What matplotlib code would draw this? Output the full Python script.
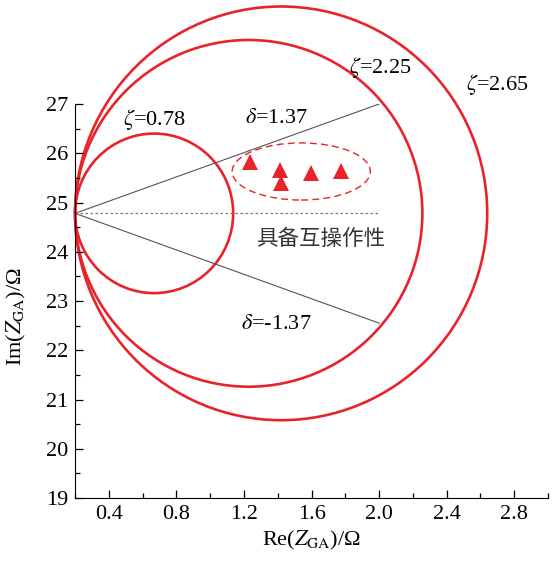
import numpy as np
import matplotlib.pyplot as plt
from matplotlib.patches import Ellipse
from matplotlib.ticker import MultipleLocator

plt.rcParams['font.family'] = ['Liberation Serif', 'DejaVu Serif']
plt.rcParams['mathtext.fontset'] = 'stix'

# common point on the left edge
x0, y0 = 0.2, 24.78

# circles: zeta label, half width (Re), half height (Im)
zeta_labels = [r'$\zeta$=0.78', r'$\zeta$=2.25', r'$\zeta$=2.65']
half_w = [0.468, 1.028, 1.22]
half_h = [1.62, 3.52, 4.2]

# delta boundary lines end points
delta_x_end = 2.0
delta_y_end = [27.0, 22.55]

# operating points (triangles)
pts_x = [1.237, 1.415, 1.42, 1.599, 1.776]
pts_y = [25.82, 25.66, 25.40, 25.60, 25.64]

# dashed region around the points
region_center = (1.539, 25.63)
region_w, region_h = 0.818, 1.16

red = '#e8232b'
fs = 16

fig = plt.figure(figsize=(5.56, 5.61), dpi=100)
ax = fig.add_axes([0.135, 0.1123, 0.8507, 0.7023])

for a, b in zip(half_w, half_h):
    e = Ellipse((x0 + a, y0), 2 * a, 2 * b, fill=False, edgecolor=red,
                linewidth=1.9, clip_on=False)
    ax.add_patch(e)

for ye in delta_y_end:
    ax.plot([x0, delta_x_end], [y0, ye], color='#555555', linewidth=0.8)
ax.plot([x0, delta_x_end], [y0, y0], color='#777777', linewidth=0.9,
        linestyle=(0, (2, 2)))

ax.add_patch(Ellipse(region_center, region_w, region_h, fill=False,
                     edgecolor=red, linewidth=1.0, linestyle=(0, (5, 3))))
ax.plot(pts_x, pts_y, linestyle='none', marker='^', color=red,
        markersize=11, markeredgewidth=0)

# labels
ax.text(0.67, 26.68, zeta_labels[0], fontsize=fs, ha='center', va='center')
ax.text(2.01, 27.75, zeta_labels[1], fontsize=fs, ha='center', va='center', clip_on=False)
ax.text(2.70, 27.39, zeta_labels[2], fontsize=fs, ha='center', va='center', clip_on=False)
ax.text(1.39, 26.7, r'$\delta$=1.37', fontsize=fs, ha='center', va='center')
ax.text(1.39, 22.53, r'$\delta$=-1.37', fontsize=fs, ha='center', va='center')
ax.text(1.652, 24.26, '具备互操作性', fontsize=15.5, ha='center', va='center',
        color='#333333', family=['Noto Sans CJK SC', 'DejaVu Sans'])

ax.set_xlim(0.2, 3.0)
ax.set_ylim(19, 27)
ax.xaxis.set_major_locator(MultipleLocator(0.4))
ax.xaxis.set_minor_locator(MultipleLocator(0.2))
ax.yaxis.set_major_locator(MultipleLocator(1))
ax.yaxis.set_minor_locator(MultipleLocator(0.5))
ax.set_xticks([0.4, 0.8, 1.2, 1.6, 2.0, 2.4, 2.8])
ax.set_xticklabels(['0.4', '0.8', '1.2', '1.6', '2.0', '2.4', '2.8'])
ax.tick_params(which='both', direction='in', labelsize=fs, width=0.9, pad=5)
ax.tick_params(which='major', length=6)
ax.tick_params(which='minor', length=3.5)
ax.spines['top'].set_visible(False)
ax.spines['right'].set_visible(False)

ax.set_xlabel(r'Re($\mathit{Z}_{\mathrm{GA}}$)/Ω', fontsize=fs)
ax.set_ylabel(r'Im($\mathit{Z}_{\mathrm{GA}}$)/Ω', fontsize=fs)
ax.xaxis.set_label_coords(0.5, -0.078)
ax.yaxis.set_label_coords(-0.1, 0.46)

fig.savefig('out.png', dpi=100)
